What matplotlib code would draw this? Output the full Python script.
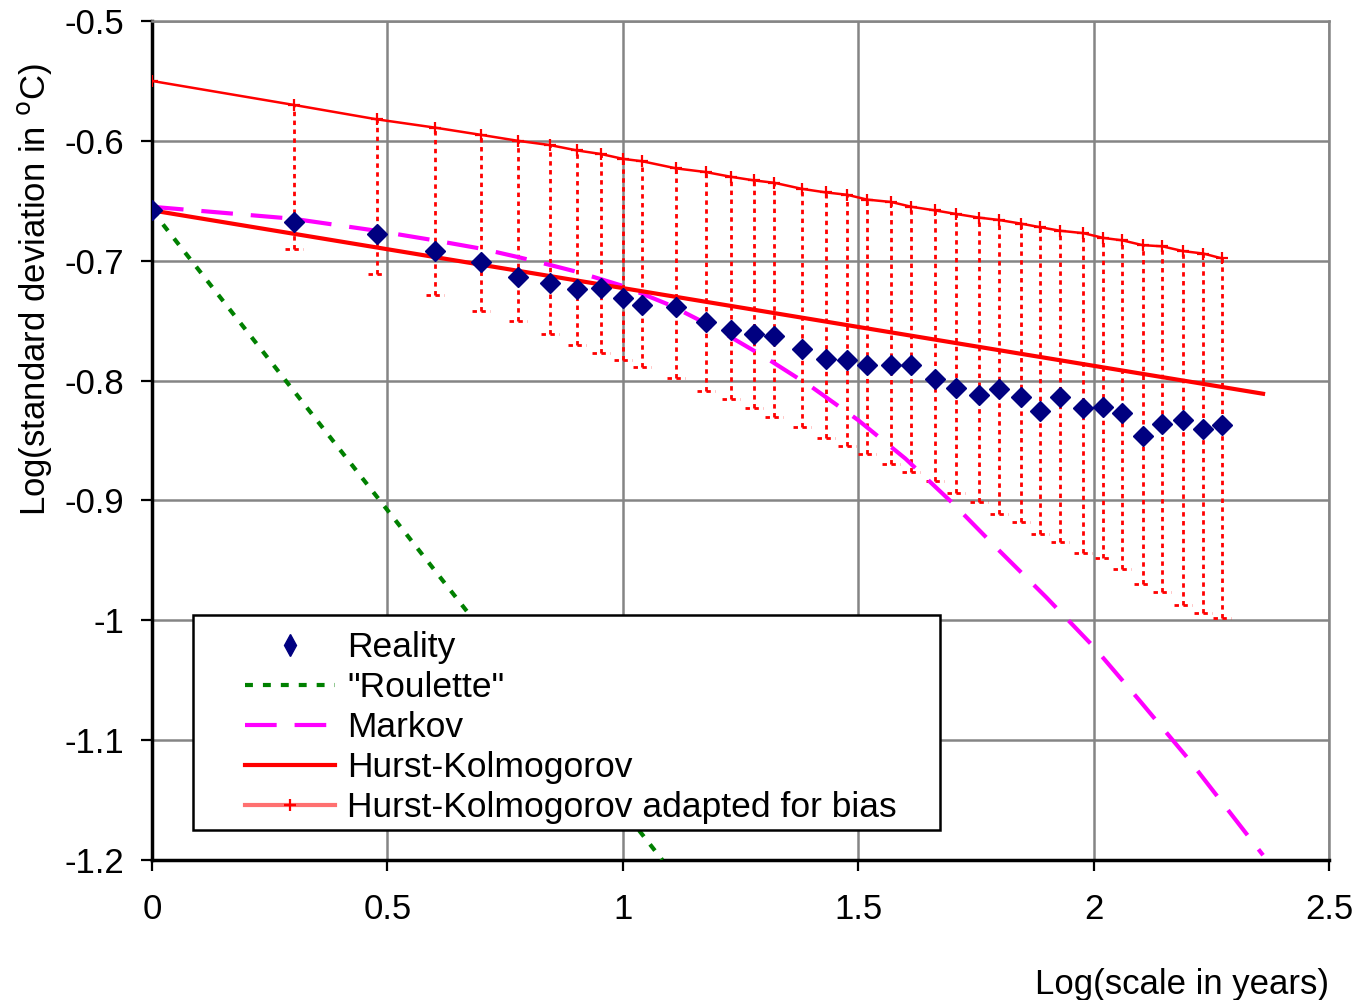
import numpy as np
import matplotlib.pyplot as plt
from matplotlib.lines import Line2D
from matplotlib.patches import Rectangle

plt.rcParams['font.family'] = ['Liberation Sans', 'DejaVu Sans']

# log of scale (years) for each point
log_scale = [0, 0.301, 0.477, 0.602, 0.699, 0.778, 0.845, 0.903, 0.954, 1.0,
             1.041, 1.114, 1.176, 1.23, 1.279, 1.322, 1.38, 1.431, 1.477, 1.519,
             1.57, 1.613, 1.663, 1.708, 1.756, 1.799, 1.845, 1.886, 1.929, 1.978,
             2.021, 2.061, 2.104, 2.146, 2.19, 2.233, 2.272]

# observed log standard deviation
reality = [-0.658, -0.668, -0.678, -0.692, -0.701, -0.714, -0.719, -0.724, -0.723, -0.731,
           -0.737, -0.739, -0.751, -0.758, -0.761, -0.763, -0.774, -0.782, -0.783, -0.787,
           -0.787, -0.787, -0.799, -0.806, -0.812, -0.807, -0.814, -0.825, -0.814, -0.823,
           -0.822, -0.827, -0.846, -0.836, -0.833, -0.840, -0.837]

# HK adapted for bias
hk_bias = [-0.550, -0.570, -0.582, -0.589, -0.595, -0.600, -0.6035, -0.608, -0.611, -0.615,
           -0.617, -0.623, -0.626, -0.630, -0.633, -0.635, -0.640, -0.643, -0.645, -0.649,
           -0.651, -0.655, -0.658, -0.661, -0.664, -0.666, -0.669, -0.672, -0.675, -0.677,
           -0.681, -0.683, -0.687, -0.688, -0.692, -0.694, -0.698]

# lower end of the error bars
hk_low = [-0.658, -0.690, -0.711, -0.729, -0.742, -0.750, -0.761, -0.770, -0.777, -0.783,
          -0.789, -0.798, -0.809, -0.815, -0.823, -0.830, -0.839, -0.848, -0.855, -0.861,
          -0.870, -0.876, -0.884, -0.894, -0.901, -0.911, -0.918, -0.928, -0.935, -0.944,
          -0.948, -0.957, -0.970, -0.976, -0.987, -0.994, -0.998]

# Hurst-Kolmogorov
hk_x = [0, 2.36]
hk_y = [-0.658, -0.811]

# "Roulette"
roul_x = [0, 1.084]
roul_y = [-0.658, -1.2]

# Markov
markov_x = [0, 0.3, 0.477, 0.6, 0.7, 0.778, 0.85, 0.9, 0.95, 1.0, 1.05, 1.1,
            1.2, 1.3, 1.4, 1.5, 1.6, 1.7, 1.8, 1.9, 2.0, 2.1, 2.2, 2.36]
markov_y = [-0.655, -0.665, -0.675, -0.683, -0.690, -0.697, -0.704, -0.709, -0.715,
            -0.721, -0.729, -0.737, -0.757, -0.780, -0.805, -0.833, -0.865, -0.902,
            -0.942, -0.981, -1.022, -1.068, -1.115, -1.196]

fig = plt.figure(figsize=(13.59, 10), dpi=100)
ax = fig.add_axes([0.1118, 0.14, 0.8661, 0.839])

ax.grid(True, color='#858585', lw=1.8)
ax.set_axisbelow(True)

# error bars (dotted, downward only)
dots = (0, (1.6, 1.6))
ax.vlines(log_scale, hk_low, hk_bias, colors='red', linestyles=dots, lw=2, zorder=2)
cap = 0.019
ax.hlines(hk_low, np.array(log_scale) - cap, np.array(log_scale) + cap, colors='red',
          linestyles=dots, lw=2, zorder=2)

roul_ls = (0, (1.9, 2.4))
markov_ls = (0, (7.6, 4.3))
ax.plot(roul_x, roul_y, color='#008000', ls=roul_ls, lw=3, zorder=3)
ax.plot(markov_x, markov_y, color='magenta', ls=markov_ls, lw=3, zorder=3)
ax.plot(hk_x, hk_y, color='red', lw=3, zorder=3)
ax.plot(log_scale, hk_bias, color='red', lw=1.8, marker='+', ms=9, mew=1.6, zorder=3)
ax.plot(log_scale, reality, ls='none', marker='D', ms=10.5, color='#000080', zorder=4)

ax.set_xlim(0, 2.5)
ax.set_ylim(-1.2, -0.5)
ax.set_xticks([0, 0.5, 1, 1.5, 2, 2.5])
ax.set_xticklabels(['0', '0.5', '1', '1.5', '2', '2.5'])
ax.set_yticks(np.arange(-1.2, -0.45, 0.1))
ax.set_yticklabels(['-1.2', '-1.1', '-1', '-0.9', '-0.8', '-0.7', '-0.6', '-0.5'])
ax.tick_params(axis='both', labelsize=25, length=8, width=1.6, direction='out')
ax.tick_params(axis='y', pad=12)
ax.tick_params(axis='x', pad=16)

for s in ['top', 'right']:
    ax.spines[s].set_color('#858585')
    ax.spines[s].set_linewidth(1.8)
for s in ['left', 'bottom']:
    ax.spines[s].set_linewidth(2.5)

ax.set_xlabel('Log(scale in years)', fontsize=25, loc='right', labelpad=30)
ax.set_ylabel('Log(standard deviation in $^{\\mathrm{o}}$C)', fontsize=25)
ax.yaxis.set_label_coords(-0.083, 0.68)

# legend box
box = Rectangle((0.0348, 0.0358), 0.6347, 0.2562, transform=ax.transAxes,
                facecolor='white', edgecolor='black', lw=1.8, zorder=5)
ax.add_patch(box)

handles = [
    Line2D([], [], ls='none', marker='d', ms=11, color='#000080'),
    Line2D([], [], color='#008000', ls=roul_ls, lw=3),
    Line2D([], [], color='magenta', ls=markov_ls, lw=3),
    Line2D([], [], color='red', lw=3),
    Line2D([], [], color='#ff7070', lw=3, marker='+', ms=9, mew=1.6, mec='red'),
]
labels = ['Reality', '"Roulette"', 'Markov', 'Hurst-Kolmogorov', 'Hurst-Kolmogorov adapted for bias']
leg = ax.legend(handles, labels, loc='upper left', bbox_to_anchor=(0.079, 0.273),
                fontsize=25.5, frameon=False, handlelength=2.55, handletextpad=0.33,
                labelspacing=0.2, borderpad=0, borderaxespad=0)
leg.set_zorder(6)

fig.savefig('out.png')
